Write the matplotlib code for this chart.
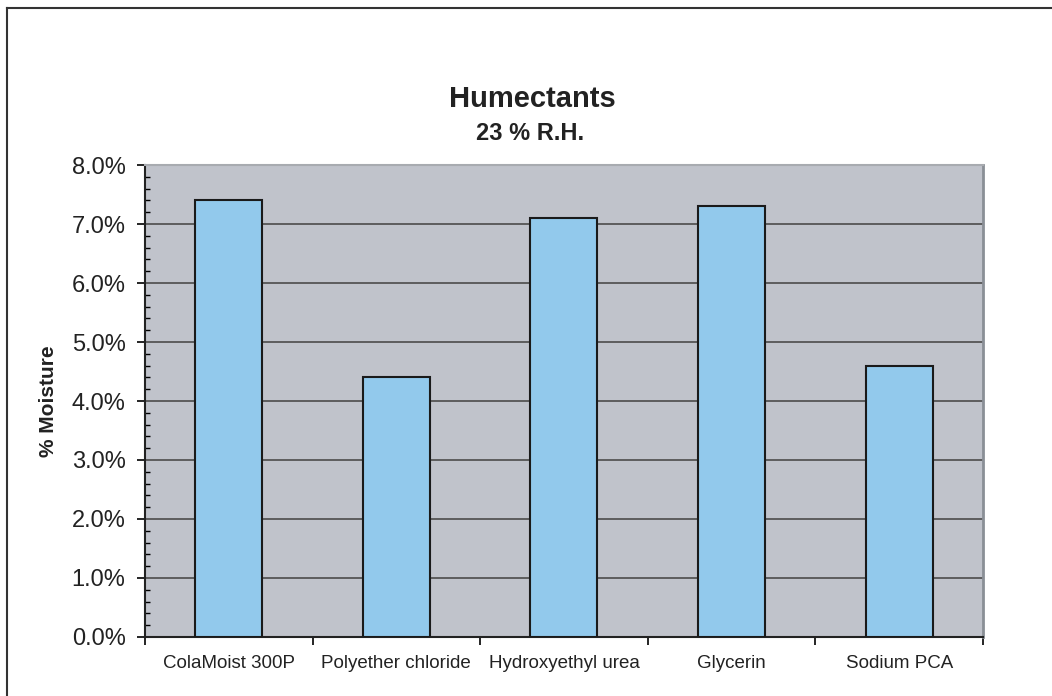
import matplotlib.pyplot as plt
import numpy as np
from matplotlib.ticker import MultipleLocator, FuncFormatter, FixedLocator
from matplotlib.lines import Line2D

categories = ['ColaMoist 300P', 'Polyether chloride', 'Hydroxyethyl urea', 'Glycerin', 'Sodium PCA']
moisture = [7.4, 4.4, 7.1, 7.3, 4.6]

plt.rcParams['font.family'] = ['Liberation Sans', 'DejaVu Sans']

fig = plt.figure(figsize=(10.52, 6.96), dpi=100)
ax = fig.add_axes([0.1378, 0.0848, 0.7966, 0.6781])
ax.set_facecolor('#c0c3cb')

x = np.arange(len(categories))
ax.bar(x, moisture, width=0.40, color='#92c9ec', edgecolor='#1a1a1a', linewidth=1.5, zorder=3)

ax.set_xlim(-0.5, len(categories) - 0.5)
ax.set_ylim(0, 8)

# grid
ax.yaxis.set_major_locator(MultipleLocator(1))
ax.yaxis.set_minor_locator(MultipleLocator(0.2))
ax.yaxis.set_major_formatter(FuncFormatter(lambda v, p: f'{v:.1f}%'))
ax.grid(axis='y', which='major', color='#555555', linewidth=1.3, zorder=1)

ax.set_xticks(x)
ax.set_xticklabels(categories, fontsize=13.5, color='#222222')
ax.tick_params(axis='x', which='major', length=0, pad=13)
ax.xaxis.set_minor_locator(FixedLocator(np.arange(-0.5, len(categories), 1.0)))
ax.tick_params(axis='x', which='minor', length=6, width=1.2, direction='out')

ax.tick_params(axis='y', which='major', labelsize=17, labelcolor='#222222',
               length=6, width=1.2, direction='out', pad=8)
ax.tick_params(axis='y', which='minor', length=3.6, width=1.0, direction='in')

for s in ['left', 'bottom']:
    ax.spines[s].set_color('#222222')
    ax.spines[s].set_linewidth(1.5)
ax.spines['right'].set_color('#8a8f96')
ax.spines['right'].set_linewidth(2)
ax.spines['top'].set_color('#a8abb0')
ax.spines['top'].set_linewidth(1.5)

ax.set_ylabel('% Moisture', fontsize=15, fontweight='bold', color='#222222', labelpad=10)

fig.text(0.506, 0.858, 'Humectants', ha='center', va='center', fontsize=21, fontweight='bold', color='#222222')
fig.text(0.504, 0.808, '23 % R.H.', ha='center', va='center', fontsize=17, fontweight='bold', color='#222222')

# outer frame (left and top edges only visible)
fig.add_artist(Line2D([0.0067, 0.0067], [0, 0.9885], transform=fig.transFigure, color='#333333', linewidth=1.5))
fig.add_artist(Line2D([0.0067, 1], [0.9885, 0.9885], transform=fig.transFigure, color='#333333', linewidth=1.5))

plt.savefig('out.png', dpi=100)
